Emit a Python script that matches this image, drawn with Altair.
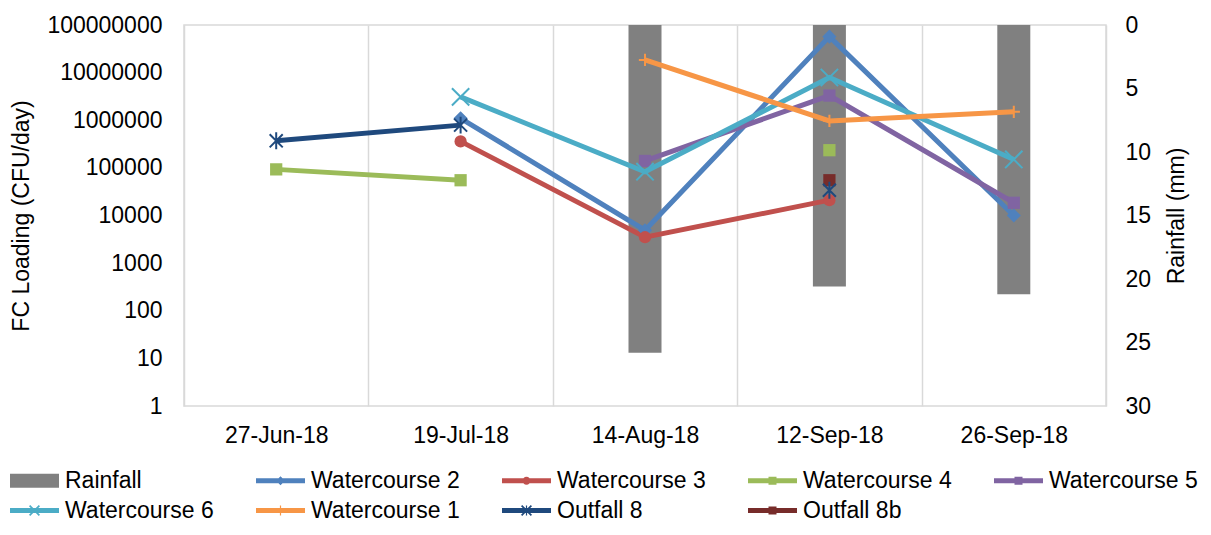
import altair as alt
import pandas as pd

FONT = "Liberation Sans"

dates = ["27-Jun-18", "19-Jul-18", "14-Aug-18", "12-Sep-18", "26-Sep-18"]
rain_mm = [0, 0, 25.8, 20.6, 21.2]

wc2 = [None, 1.1e6, 4.9e3, 5.7e7, 1.0e4]
wc3 = [None, 3.6e5, 3.5e3, 2.1e4, None]
wc4 = [9.3e4, 5.5e4, None, 2.35e5, None]
wc5 = [None, None, 1.4e5, 3.3e6, 1.85e4]
wc6 = [None, 3.1e6, 8.3e4, 7.9e6, 1.5e5]
wc1 = [None, None, 1.85e7, 9.7e5, 1.5e6]
of8 = [3.7e5, 7.9e5, None, 3.4e4, None]
of8b = [None, None, None, 5.5e4, None]

series_names = ["Watercourse 2", "Watercourse 3", "Watercourse 4", "Watercourse 5",
                "Watercourse 6", "Watercourse 1", "Outfall 8", "Outfall 8b"]
series_values = [wc2, wc3, wc4, wc5, wc6, wc1, of8, of8b]

legend_names = ["Rainfall"] + series_names
legend_colors = ["#808080", "#4F81BD", "#C0504D", "#9BBB59", "#8064A2",
                 "#4BACC6", "#F79646", "#1F497D", "#772C2A"]

# legend symbols (line + marker), unit = 10 px
LINE = "M-2.45,-0.25H2.45V0.25H-2.45Z"
DIAMOND = "M0,-0.45L0.45,0L0,0.45L-0.45,0Z"
CIRCLE = "M-0.4,0A0.4,0.4 0 0,1 0.4,0A0.4,0.4 0 0,1 -0.4,0Z"
SQUARE = "M-0.4,-0.4H0.4V0.4H-0.4Z"
XMARK = "M-0.55,-0.43L-0.43,-0.55L0.55,0.43L0.43,0.55ZM-0.55,0.43L0.43,-0.55L0.55,-0.43L-0.43,0.55Z"
TICK = "M-0.06,-0.5H0.06V0.5H-0.06Z"
legend_paths = [
    "M-2.45,-0.7H2.45V0.7H-2.45Z",
    LINE + DIAMOND,
    LINE + CIRCLE,
    LINE + SQUARE,
    LINE + SQUARE,
    LINE + XMARK,
    LINE + TICK,
    LINE + XMARK + TICK,
    LINE + SQUARE,
]

rows = []
for name, vals in zip(series_names, series_values):
    for d, v in zip(dates, vals):
        rows.append({"series": name, "date": d, "value": v})
fc = pd.DataFrame(rows)
rain = pd.DataFrame({"date": dates, "rain": rain_mm})

major_test = "abs(log(datum.value)/LN10 - round(log(datum.value)/LN10)) < 0.001"
grid_vals = sorted([m * 10 ** k for k in range(8) for m in range(1, 10)] + [10 ** 8])

x_enc = alt.X(
    "date:N", sort=dates,
    scale=alt.Scale(domain=dates, paddingInner=0, paddingOuter=0),
    axis=alt.Axis(title=None, labelAngle=0, ticks=False, domain=False, grid=True,
                  tickBand="extent", labelPadding=18, gridColor="#D9D9D9", gridWidth=1.5),
)

cscale = alt.Scale(domain=legend_names, range=legend_colors)

bars = alt.Chart(rain).mark_bar(size=33, color="#808080").encode(
    x=x_enc,
    y=alt.Y("rain:Q",
            scale=alt.Scale(domain=[0, 30], reverse=True, nice=False, zero=True),
            axis=alt.Axis(orient="right", title="Rainfall (mm)", values=[0, 5, 10, 15, 20, 25, 30],
                          grid=False, ticks=False, domain=False, labelPadding=19,
                          titlePadding=15, titleAngle=270, titleBaseline="top")),
)

fc_base = alt.Chart(fc).encode(
    x=x_enc,
    y=alt.Y("value:Q",
            scale=alt.Scale(type="log", domain=[1, 1e8], nice=False),
            axis=alt.Axis(orient="left", title="FC Loading (CFU/day)", values=grid_vals,
                          format="d", labelExpr=f"{major_test} ? datum.label : ''",
                          labelOverlap=False, ticks=False, domain=False,
                          labelPadding=22, titlePadding=13,
                          gridColor={"condition": {"test": major_test, "value": "#D9D9D9"},
                                     "value": "#E8E8E8"},
                          gridWidth={"condition": {"test": major_test, "value": 1.5},
                                     "value": 1.5})),
    color=alt.Color("series:N", scale=cscale, legend=None),
)

lines = fc_base.mark_line(strokeWidth=5, invalid="break-paths-show-domains")


def pts(names, shape, size, filled=True, sw=2):
    return fc_base.transform_filter(
        alt.FieldOneOfPredicate(field="series", oneOf=names)
    ).transform_filter("isValid(datum.value)").mark_point(
        shape=shape, size=size, filled=filled, opacity=1, strokeWidth=sw
    )


points = [
    pts(["Watercourse 2"], "diamond", 200),
    pts(["Watercourse 3"], "circle", 150),
    pts(["Watercourse 4", "Watercourse 5", "Outfall 8b"], "square", 150),
    pts(["Watercourse 6"], "M-1,-1L1,1M-1,1L1,-1", 300, filled=False),
    pts(["Watercourse 1"], "M-1,0L1,0M0,-1L0,1", 150, filled=False),
    pts(["Outfall 8"], "M-1,-1L1,1M-1,1L1,-1M0,-1.3L0,1.3", 170, filled=False),
]

inner = alt.layer(lines, *points)

leg = alt.Legend(title=None, orient="none", legendX=-176, legendY=444, columns=5,
                 columnPadding=40, rowPadding=6, symbolSize=400, symbolOffset=15,
                 labelOffset=19, symbolStrokeWidth=0, labelFont=FONT, labelFontSize=23,
                 labelColor="#000000", direction="horizontal")

legend_layer = alt.Chart(fc).transform_filter("false").mark_point(filled=True, opacity=1).encode(
    color=alt.Color("series:N", scale=cscale, legend=leg),
    shape=alt.Shape("series:N", scale=alt.Scale(domain=legend_names, range=legend_paths), legend=leg),
)

chart = alt.layer(legend_layer, bars, inner).resolve_scale(y="independent").properties(
    width=922, height=381, padding={"left": 0, "top": 6, "right": 5, "bottom": 0}
).configure_view(stroke="#D9D9D9", strokeWidth=1.5).configure_axis(
    labelFont=FONT, titleFont=FONT, labelFontSize=23, titleFontSize=23,
    labelColor="#000000", titleColor="#000000", titleFontWeight="normal"
)

chart.save("out.html", embed_options={"renderer": "svg", "actions": False})
